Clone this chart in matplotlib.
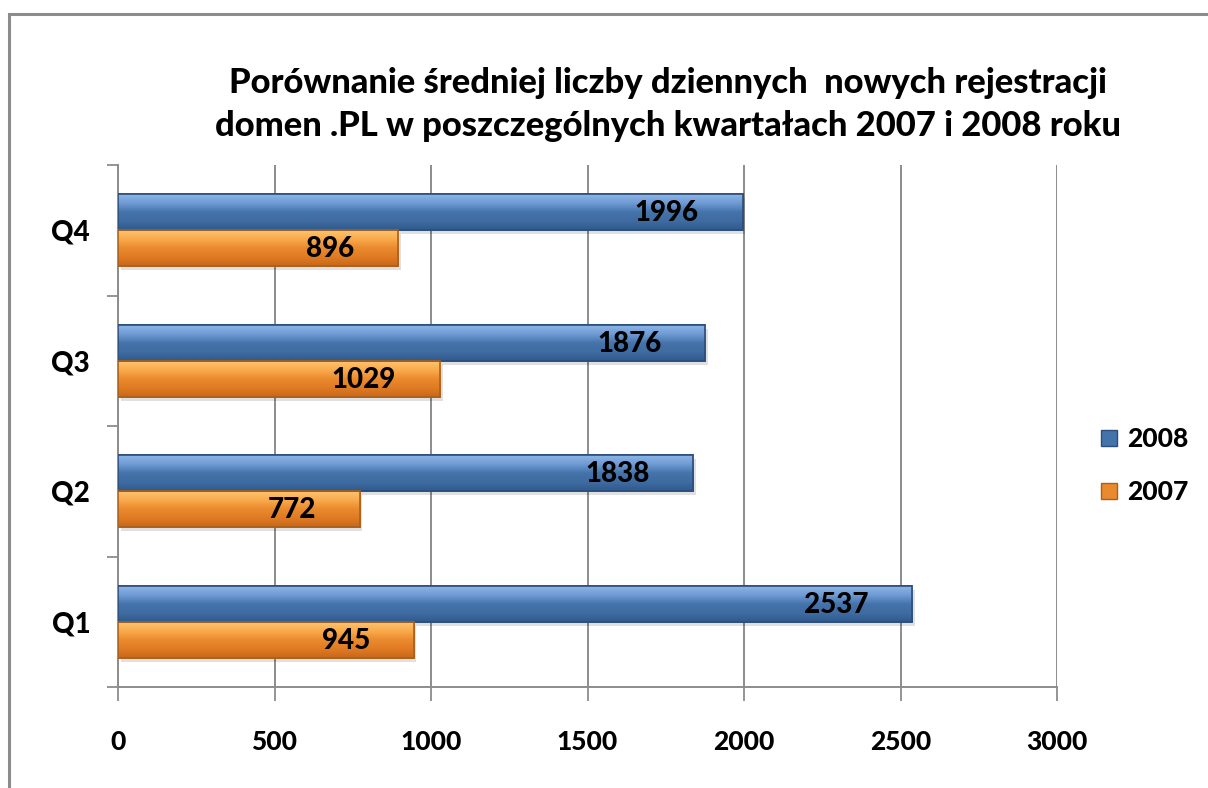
import numpy as np
import matplotlib.pyplot as plt
from matplotlib.colors import LinearSegmentedColormap
from matplotlib.patches import Rectangle

plt.rcParams['font.family'] = ['Lato', 'DejaVu Sans']
W = 'black'
plt.rcParams['font.weight'] = W

quarters = ['Q1', 'Q2', 'Q3', 'Q4']
v2008 = [2537, 1838, 1876, 1996]
v2007 = [945, 772, 1029, 896]
series_names = ['2008', '2007']
title = ('Porównanie średniej liczby dziennych  nowych rejestracji\n'
         'domen .PL w poszczególnych kwartałach 2007 i 2008 roku')

blue_cols = ['#2f5a8e', '#3f6ca1', '#4473aa', '#6f9bd4', '#8db5e6']
orange_cols = ['#c8681a', '#e07b24', '#ea8a2e', '#f9aa4c', '#fdc46f']
blue_edge = '#2b4e7c'
orange_edge = '#a9601c'

fig = plt.figure(figsize=(12.08, 7.88), dpi=100)
ax = fig.add_axes([0.0977, 0.128, 0.7773, 0.6626])

y = np.arange(len(quarters))
h = 0.275


def grad_bars(vals, offset, cols, edge):
    cmap = LinearSegmentedColormap.from_list('g', cols)
    bars = ax.barh(y + offset, vals, height=h, color=cols[2], edgecolor=edge,
                   linewidth=1.2, zorder=3)
    grad = np.linspace(0, 1, 100).reshape(-1, 1)
    for b in bars:
        x0, y0 = b.get_x(), b.get_y()
        w, hh = b.get_width(), b.get_height()
        # shadow under the bar
        ax.add_patch(Rectangle((x0 + 8, y0 - 0.03), w, hh, color='#000000',
                               alpha=0.12, zorder=2, linewidth=0))
        im = ax.imshow(grad, cmap=cmap, aspect='auto', origin='lower',
                       extent=[x0, x0 + w, y0, y0 + hh], zorder=3.5,
                       interpolation='bicubic')
        im.set_clip_path(b)
        ax.add_patch(Rectangle((x0, y0), w, hh, fill=False, edgecolor=edge,
                               linewidth=1.2, zorder=4))
    return bars


b08 = grad_bars(v2008, h / 2, blue_cols, blue_edge)
b07 = grad_bars(v2007, -h / 2, orange_cols, orange_edge)

for bars, vals in ((b08, v2008), (b07, v2007)):
    for b, v in zip(bars, vals):
        ax.annotate(str(v), (b.get_x() + b.get_width(), b.get_y() + b.get_height() / 2),
                    xytext=(-44, -1), textcoords='offset pixels', ha='right',
                    va='center', fontsize=20, fontweight=W, zorder=6)

ax.set_xlim(0, 3000)
ax.set_ylim(-0.5, 3.5)
ax.set_xticks(np.arange(0, 3001, 500))
ax.set_yticks(np.arange(-0.5, 4, 1))
ax.set_yticklabels([])
ax.set_yticks(y, quarters, minor=True)
ax.tick_params(axis='y', which='minor', length=0, pad=20, labelsize=20)
ax.tick_params(axis='y', which='major', length=8, width=1.3, color='#8c8c8c')
ax.tick_params(axis='x', length=10, width=1.3, color='#8c8c8c', pad=21, labelsize=19)
for lab in ax.get_xticklabels() + ax.get_yticklabels(minor=True):
    lab.set_fontweight(W)

ax.grid(axis='x', color='#8c8c8c', linewidth=1.4, zorder=0)
ax.set_axisbelow(True)
for s in ['top', 'right']:
    ax.spines[s].set_visible(False)
for s in ['left', 'bottom']:
    ax.spines[s].set_color('#8c8c8c')
    ax.spines[s].set_linewidth(1.4)

fig.text(0.5526, 0.867, title, ha='center', va='center', fontsize=24.8,
         fontweight=W, linespacing=1.42)

handles = [Rectangle((0, 0), 1, 1, facecolor=blue_cols[2], edgecolor=blue_edge),
           Rectangle((0, 0), 1, 1, facecolor=orange_cols[2], edgecolor=orange_edge)]
fig.legend(handles, series_names, loc='center left', bbox_to_anchor=(0.8915, 0.409),
           frameon=False, handlelength=0.6, handleheight=0.6,
           handletextpad=0.4, labelspacing=1.1, prop={'weight': W, 'size': 19})

# outer chart border
fig.add_artist(Rectangle((0.0075, -0.05), 1.1, 1.032, transform=fig.transFigure,
                         fill=False, edgecolor='#8c8c8c', linewidth=2.2))

fig.savefig('out.png', dpi=100)
